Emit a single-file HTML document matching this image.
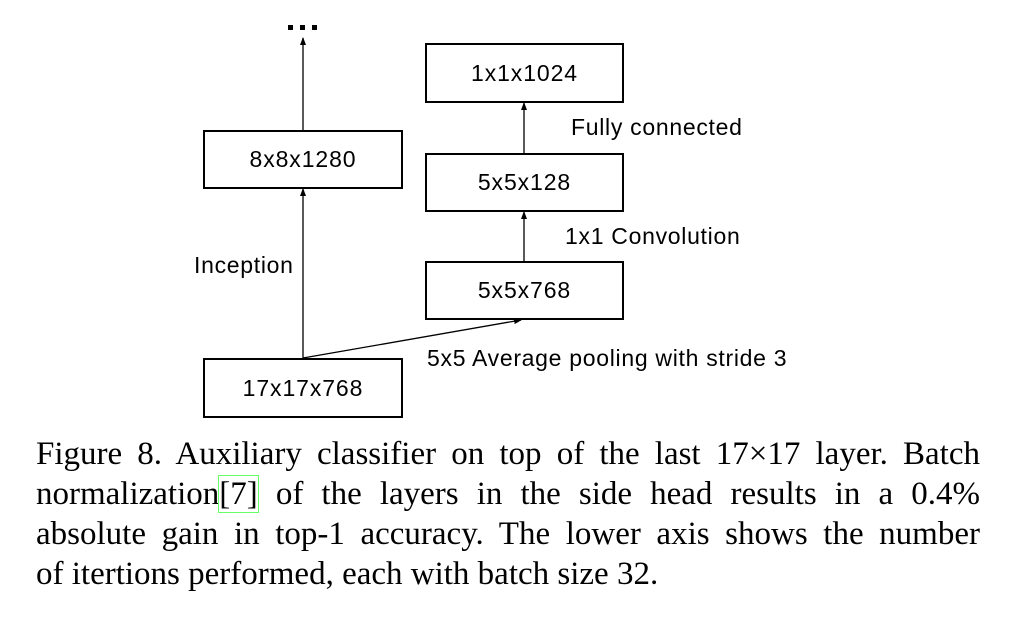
<!DOCTYPE html>
<html><head><style>
body{margin:0;width:1016px;height:640px;background:#fff;position:relative;overflow:hidden}
.b{position:absolute;border:2px solid #000;box-sizing:border-box;font:23px "Liberation Sans",sans-serif;letter-spacing:0.9px;display:flex;align-items:center;justify-content:center}
.l{position:absolute;font:23px "Liberation Sans",sans-serif;letter-spacing:0.7px;white-space:nowrap;line-height:1}
.cap{position:absolute;left:36px;top:434px;width:944px;font:33px "Liberation Serif",serif;line-height:40px}
.cap div{text-align:justify;text-align-last:justify;white-space:nowrap}
</style></head><body>
<svg width="1016" height="430" style="position:absolute;left:0;top:0">
<defs><marker id="a" markerWidth="8" markerHeight="8" refX="7" refY="4" orient="auto" markerUnits="userSpaceOnUse"><path d="M0,1L8,4L0,7z" fill="#000"/></marker></defs>
<g stroke="#000" stroke-width="1.3">
<line x1="303" y1="130" x2="303" y2="38" marker-end="url(#a)"/>
<line x1="303" y1="358" x2="303" y2="189" marker-end="url(#a)"/>
<line x1="303" y1="358" x2="521" y2="320" marker-end="url(#a)"/>
<line x1="524" y1="261" x2="524" y2="212" marker-end="url(#a)"/>
<line x1="524" y1="153" x2="524" y2="103" marker-end="url(#a)"/>
</g>
<g fill="#000"><rect x="288" y="25" width="5" height="5"/><rect x="300" y="25" width="5" height="5"/><rect x="312" y="25" width="5" height="5"/></g>
</svg>
<div class="b" style="left:203px;top:130px;width:200px;height:59px">8x8x1280</div>
<div class="b" style="left:203px;top:358px;width:200px;height:60px">17x17x768</div>
<div class="b" style="left:425px;top:43px;width:199px;height:60px">1x1x1024</div>
<div class="b" style="left:425px;top:153px;width:199px;height:59px">5x5x128</div>
<div class="b" style="left:425px;top:261px;width:199px;height:59px">5x5x768</div>
<div class="l" style="left:194px;top:254px">Inception</div>
<div class="l" style="left:571px;top:116px">Fully connected</div>
<div class="l" style="left:565px;top:225px">1x1 Convolution</div>
<div class="l" style="left:427px;top:347px">5x5 Average pooling with stride 3</div>
<div class="cap">
<div>Figure 8. Auxiliary classifier on top of the last 17&#215;17 layer. Batch</div>
<div>normalization<span style="outline:1px solid #6f6;">[7]</span> of the layers in the side head results in a 0.4%</div>
<div>absolute gain in top-1 accuracy. The lower axis shows the number</div>
<div style="text-align-last:left">of itertions performed, each with batch size 32.</div>
</div>
</body></html>
